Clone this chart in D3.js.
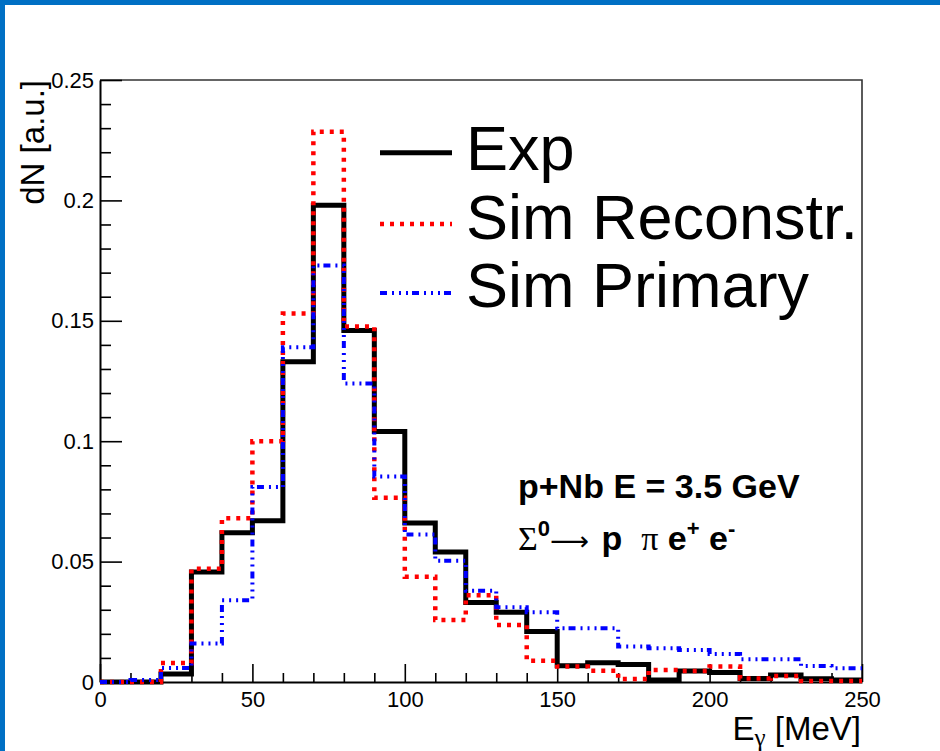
<!DOCTYPE html>
<html>
<head>
<meta charset="utf-8">
<script src="https://cdn.jsdelivr.net/npm/d3@7"></script>
<style>
  html, body { margin: 0; padding: 0; background: #fff; }
  svg { display: block; }
  .pre { white-space: pre; }
</style>
</head>
<body>
<svg id="chart" width="940" height="751"></svg>
<script>
// Photon energy bins (lower edges, MeV), 10 MeV wide
const binLow = [0, 10, 20, 30, 40, 50, 60, 70, 80, 90, 100, 110, 120, 130, 140, 150, 160, 170, 180, 190, 200, 210, 220, 230, 240];
const binUpper = 250;

// dN per bin (arbitrary units)
const expValues = [0, 0, 0.0033, 0.0457, 0.062, 0.067, 0.133, 0.198, 0.146, 0.104, 0.066, 0.054, 0.033, 0.029, 0.021, 0.0068, 0.008, 0.0073, 0.0008, 0.0046, 0.0039, 0.0015, 0.0029, 0.0014, 0.0008];
const simReconstrValues = [0, 0, 0.0079, 0.047, 0.068, 0.100, 0.153, 0.2285, 0.1476, 0.0765, 0.0437, 0.0257, 0.036, 0.0237, 0.0088, 0.0064, 0.0047, 0.0012, 0.005, 0.0046, 0.0064, 0.0015, 0.0025, 0.0004, 0.0004];
const simPrimaryValues = [0, 0.0008, 0.0058, 0.016, 0.034, 0.081, 0.139, 0.173, 0.124, 0.0853, 0.0613, 0.0504, 0.0379, 0.031, 0.029, 0.0223, 0.0223, 0.0147, 0.014, 0.0133, 0.0116, 0.0094, 0.0094, 0.0066, 0.0057];

const seriesNames = ["Exp", "Sim Reconstr.", "Sim Primary"];

// Axis ticks
const xMajorTicks = [0, 50, 100, 150, 200, 250];
const xMajorLabels = ["0", "50", "100", "150", "200", "250"];
const xMinorTicks = [10, 20, 30, 40, 60, 70, 80, 90, 110, 120, 130, 140, 160, 170, 180, 190, 210, 220, 230, 240];
const yMajorTicks = [0, 0.05, 0.1, 0.15, 0.2, 0.25];
const yMajorLabels = ["0", "0.05", "0.1", "0.15", "0.2", "0.25"];
const yMinorTicks = [0.01, 0.02, 0.03, 0.04, 0.06, 0.07, 0.08, 0.09, 0.11, 0.12, 0.13, 0.14, 0.16, 0.17, 0.18, 0.19, 0.21, 0.22, 0.23, 0.24];

const SANS = "'Liberation Sans', Arial, Helvetica, sans-serif";
const SERIF = "'Liberation Serif', 'Times New Roman', serif";

const svg = d3.select("#chart");

// page background and blue border strips
svg.append("rect").attr("width", 940).attr("height", 751).attr("fill", "#fff");
svg.append("rect").attr("x", 0).attr("y", 0).attr("width", 940).attr("height", 5).attr("fill", "#0070c4");
svg.append("rect").attr("x", 0).attr("y", 0).attr("width", 5).attr("height", 751).attr("fill", "#0070c4");

const x = d3.scaleLinear().domain([0, 250]).range([100, 862]);
const y = d3.scaleLinear().domain([0, 0.25]).range([682, 80]);

// frame (top and right)
svg.append("path")
  .attr("d", `M${x(0)},${y(0.25)}H${x(250)}V${y(0)}`)
  .attr("fill", "none").attr("stroke", "#333").attr("stroke-width", 1.6);

function styleAxis(g, fontSize) {
  g.attr("font-family", SANS).attr("font-size", fontSize);
  g.selectAll(".domain").attr("stroke", "#000").attr("stroke-width", 2);
  g.selectAll(".tick line").attr("stroke", "#000").attr("stroke-width", 1.6);
  g.selectAll(".tick text").attr("fill", "#000");
}

// x axis: major and minor ticks pointing inward
const gxMinor = svg.append("g").attr("transform", `translate(0,${y(0)})`)
  .call(d3.axisBottom(x).tickValues(xMinorTicks).tickFormat("").tickSize(-9).tickSizeOuter(0));
gxMinor.select(".domain").remove();
styleAxis(gxMinor, 22);

const gx = svg.append("g").attr("transform", `translate(0,${y(0)})`)
  .call(d3.axisBottom(x).tickValues(xMajorTicks)
    .tickFormat((d, i) => xMajorLabels[i]).tickSize(-18).tickSizeOuter(0).tickPadding(9.5));
styleAxis(gx, 22);

// y axis
const gyMinor = svg.append("g").attr("transform", `translate(${x(0)},0)`)
  .call(d3.axisLeft(y).tickValues(yMinorTicks).tickFormat("").tickSize(-11).tickSizeOuter(0));
gyMinor.select(".domain").remove();
styleAxis(gyMinor, 22);

const gy = svg.append("g").attr("transform", `translate(${x(0)},0)`)
  .call(d3.axisLeft(y).tickValues(yMajorTicks)
    .tickFormat((d, i) => yMajorLabels[i]).tickSize(-22).tickSizeOuter(0).tickPadding(6));
styleAxis(gy, 22);

// axis titles
svg.append("text")
  .attr("transform", `translate(44,${y(0.25)}) rotate(-90)`)
  .attr("text-anchor", "end")
  .attr("font-family", SANS).attr("font-size", 33).attr("fill", "#000")
  .text("dN [a.u.]");

const xt = svg.append("text")
  .attr("x", 861).attr("y", 740)
  .attr("text-anchor", "end")
  .attr("font-family", SANS).attr("font-size", 33).attr("fill", "#000");
xt.append("tspan").text("E");
xt.append("tspan").attr("font-family", SERIF).attr("font-size", 25).attr("dy", 6).text("γ");
xt.append("tspan").attr("dy", -6).text(" [MeV]");

// histogram step outlines
const seriesStyles = [
  { color: "#000", width: 5, dash: null },
  { color: "#ff0000", width: 4.5, dash: "4,6" },
  { color: "#0000ff", width: 4, dash: "7,5,2,5,2,5,2,4" }
];
const seriesValues = [expValues, simReconstrValues, simPrimaryValues];

const stepLine = d3.line()
  .x(d => x(d[0]))
  .y(d => y(d[1]))
  .curve(d3.curveStepAfter);

seriesValues.forEach((vals, i) => {
  const pts = binLow.map((lo, j) => [lo, vals[j]]);
  pts.push([binUpper, vals[vals.length - 1]]);
  svg.append("path")
    .datum(pts)
    .attr("d", stepLine)
    .attr("fill", "none")
    .attr("stroke", seriesStyles[i].color)
    .attr("stroke-width", seriesStyles[i].width)
    .attr("stroke-dasharray", seriesStyles[i].dash)
    .attr("stroke-linejoin", "miter");
});

// legend
const legendRows = [152.7, 224, 293];
const legendBaselines = [170, 239, 307];
seriesNames.forEach((name, i) => {
  svg.append("line")
    .attr("x1", 380).attr("x2", 452)
    .attr("y1", legendRows[i]).attr("y2", legendRows[i])
    .attr("stroke", seriesStyles[i].color)
    .attr("stroke-width", seriesStyles[i].width)
    .attr("stroke-dasharray", seriesStyles[i].dash);
  svg.append("text")
    .attr("x", 466).attr("y", legendBaselines[i])
    .attr("font-family", SANS).attr("font-size", 63).attr("fill", "#000")
    .text(name);
});

// reaction annotation
svg.append("text")
  .attr("x", 518).attr("y", 498)
  .attr("font-family", SANS).attr("font-size", 34).attr("font-weight", "bold").attr("fill", "#000")
  .text("p+Nb E = 3.5 GeV");

// decay channel: pieces laid out left to right, each placed after the previous one;
// a piece with a target width is stretched horizontally to that width
const decayPieces = [
  { t: "Σ", font: SERIF, size: 34, bold: false, rise: 0 },
  { t: "0", font: SANS, size: 22, bold: true, rise: 14 },
  { t: "⟶", font: "'DejaVu Sans', sans-serif", size: 26, bold: false, rise: 0, width: 39, gapBefore: 0 },
  { t: " p  ", font: SANS, size: 34, bold: true, rise: 0, gapBefore: 3 },
  { t: "π", font: SERIF, size: 34, bold: false, rise: 0 },
  { t: " e", font: SANS, size: 34, bold: true, rise: 0 },
  { t: "+", font: SANS, size: 22, bold: true, rise: 14 },
  { t: " e", font: SANS, size: 34, bold: true, rise: 0 },
  { t: "-", font: SANS, size: 22, bold: true, rise: 14 }
];
const decayBaseline = 550;
let cursor = 518;
const decayGroup = svg.append("g").attr("fill", "#000");
decayPieces.forEach(p => {
  cursor += p.gapBefore || 0;
  const el = decayGroup.append("text")
    .attr("class", "pre")
    .attr("x", 0).attr("y", 0)
    .attr("font-family", p.font).attr("font-size", p.size)
    .attr("font-weight", p.bold ? "bold" : "normal")
    .text(p.t);
  const natural = el.node().getComputedTextLength();
  if (p.width) {
    const sx = p.width / natural;
    el.attr("transform", `translate(${cursor},${decayBaseline - p.rise}) scale(${sx},1)`);
    cursor += p.width;
  } else {
    el.attr("transform", `translate(${cursor},${decayBaseline - p.rise})`);
    cursor += natural;
  }
});
</script>
</body>
</html>
